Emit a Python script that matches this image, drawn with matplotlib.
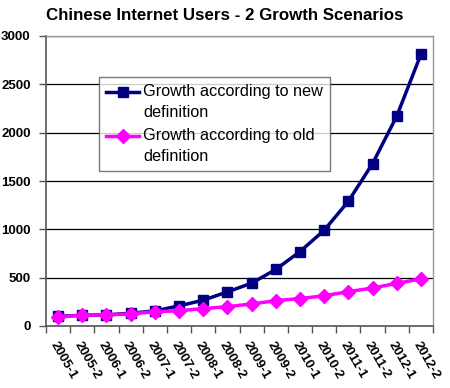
import matplotlib
matplotlib.use("Agg")
import matplotlib.pyplot as plt
from matplotlib.legend_handler import HandlerLine2D
import numpy as np

categories = ["2005-1", "2005-2", "2006-1", "2006-2", "2007-1", "2007-2", "2008-1", "2008-2",
              "2009-1", "2009-2", "2010-1", "2010-2", "2011-1", "2011-2", "2012-1", "2012-2"]
new_def = [100, 111, 115, 132, 156, 208, 267, 353, 443, 585, 770, 990, 1290, 1680, 2170, 2810]
old_def = [95, 111, 115, 125, 148, 158, 180, 200, 228, 262, 284, 313, 355, 393, 441, 488]
yticks = [0, 500, 1000, 1500, 2000, 2500, 3000]


class TopAlignedHandler(HandlerLine2D):
    def __init__(self, shift, **kw):
        super().__init__(**kw)
        self.shift = shift

    def create_artists(self, legend, orig_handle, xdescent, ydescent, width, height, fontsize, trans):
        return super().create_artists(legend, orig_handle, xdescent, ydescent - 2 * self.shift,
                                      width, height, fontsize, trans)


plt.rcParams['font.family'] = ['Liberation Sans', 'DejaVu Sans']
fig = plt.figure(figsize=(4.5, 3.88), dpi=100)
ax = fig.add_axes([46/450, 62/388, 387/450, 290/388])

x = np.arange(len(categories))
l1, = ax.plot(x, new_def, color='#000080', lw=2.5, marker='s', ms=6.5, label='Growth according to new\ndefinition', zorder=3)
l2, = ax.plot(x, old_def, color='#FF00FF', lw=2.5, marker='D', ms=7, label='Growth according to old\ndefinition', zorder=4)

ax.set_xlim(-0.5, len(categories) - 0.5)
ax.set_ylim(0, 3000)
ax.set_yticks(yticks)
ax.set_yticklabels([str(v) for v in yticks], fontsize=9.5, fontweight='bold')
ax.yaxis.grid(True, color='black', lw=0.9)
ax.set_axisbelow(True)

ax.set_xticks(np.arange(len(categories) + 1) - 0.5)
ax.set_xticklabels([])
ax.set_xticks(x, minor=True)
ax.set_xticklabels(categories, minor=True, rotation=-60, ha='left', va='top',
                   rotation_mode='anchor', fontsize=9.5, fontweight='bold')
ax.tick_params(axis='x', which='minor', length=0, pad=10)
ax.tick_params(axis='x', which='major', length=5, color='#555555', width=1)
ax.tick_params(axis='y', length=5, color='#555555', width=1, pad=6)

for s in ['top', 'right']:
    ax.spines[s].set_color('#999999')
    ax.spines[s].set_linewidth(1)
for s in ['left', 'bottom']:
    ax.spines[s].set_color('#555555')
    ax.spines[s].set_linewidth(1.2)

fig.text(0.5, 1 - 16/388, 'Chinese Internet Users - 2 Growth Scenarios', ha='center', va='center',
         fontsize=12.2, fontweight='bold')

h = TopAlignedHandler(7.5)
leg = ax.legend(handles=[l1, l2], handler_map={l1: h, l2: h},
                loc='upper left', bbox_to_anchor=((99-46)/387, (326-77)/290), frameon=True,
                fancybox=False, edgecolor='#555555', fontsize=11.7, handlelength=2.0,
                borderpad=0.45, labelspacing=0.45, handletextpad=0.25, borderaxespad=0)
leg.get_frame().set_linewidth(1)
for t in leg.get_texts():
    t.set_linespacing(1.5)

fig.savefig('out.png', dpi=100, facecolor='white')
